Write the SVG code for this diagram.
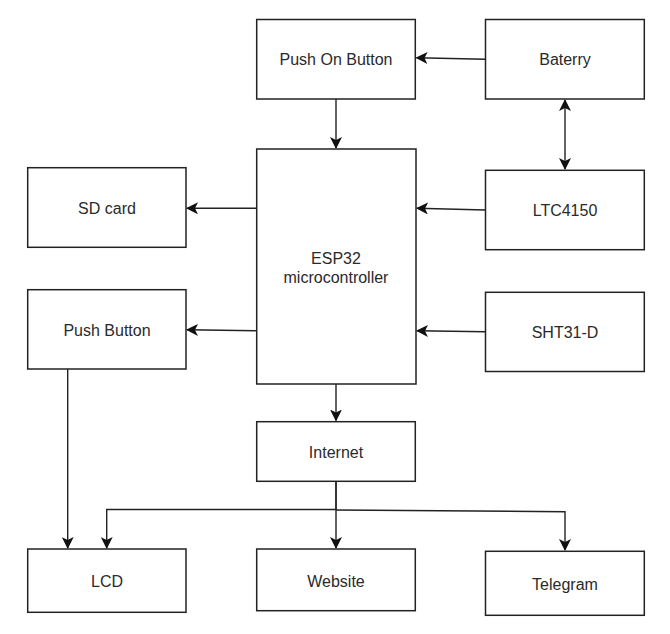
<svg xmlns="http://www.w3.org/2000/svg" width="670" height="634" viewBox="0 0 670 634">
<style>
.box{fill:#fff;stroke:#222;stroke-width:1.5}
.lbl{font-family:"Liberation Sans",Arial,sans-serif;font-size:16px;fill:#2a2a2a;text-anchor:middle}
.con{fill:none;stroke:#222;stroke-width:1.4}
</style>
<defs>
<marker id="arr" viewBox="0 0 12 12" refX="11" refY="6" markerWidth="12" markerHeight="12" markerUnits="userSpaceOnUse" orient="auto-start-reverse">
<path d="M0,0 L12,6 L0,12 L3,6 Z" fill="#111"/>
</marker>
</defs>
<rect width="670" height="634" fill="#fff"/>
<g id="connectors">
<path class="con" d="M485.5,59.3 L416.5,57.8" marker-end="url(#arr)"/>
<path class="con" d="M336,99 V148" marker-end="url(#arr)"/>
<path class="con" d="M565,100 V169" marker-start="url(#arr)" marker-end="url(#arr)"/>
<path class="con" d="M256.5,208.3 H187" marker-end="url(#arr)"/>
<path class="con" d="M485.5,210 L417,208.2" marker-end="url(#arr)"/>
<path class="con" d="M256.5,330.7 L187,329.8" marker-end="url(#arr)"/>
<path class="con" d="M485.5,331.7 L417,330.8" marker-end="url(#arr)"/>
<path class="con" d="M336,384 V420.5" marker-end="url(#arr)"/>
<path class="con" d="M336,481 V548" marker-end="url(#arr)"/>
<path class="con" d="M336,481 V509.5 H106.7 V548" marker-end="url(#arr)"/>
<path class="con" d="M336,510 L565,511.7 V550" marker-end="url(#arr)"/>
<path class="con" d="M67.7,369 V548" marker-end="url(#arr)"/>
</g>
<g id="push-on-button"><rect class="box" x="256.7" y="19.5" width="158.6" height="79.5"/><text class="lbl" x="336" y="65">Push On Button</text></g>
<g id="baterry"><rect class="box" x="485.5" y="19.5" width="158.8" height="79.5"/><text class="lbl" x="565" y="65">Baterry</text></g>
<g id="esp32"><rect class="box" x="256.7" y="149" width="159.3" height="235"/><text class="lbl" x="336" y="263.7">ESP32</text><text class="lbl" x="336" y="283.4">microcontroller</text></g>
<g id="sd-card"><rect class="box" x="27.7" y="167.7" width="158.3" height="79.6"/><text class="lbl" x="107" y="214">SD card</text></g>
<g id="ltc4150"><rect class="box" x="485.5" y="170.3" width="158.8" height="79.4"/><text class="lbl" x="565" y="215.7">LTC4150</text></g>
<g id="push-button"><rect class="box" x="27.7" y="289.7" width="158.3" height="79.3"/><text class="lbl" x="107" y="335.7">Push Button</text></g>
<g id="sht31-d"><rect class="box" x="485.5" y="292.3" width="158.8" height="79.2"/><text class="lbl" x="565" y="338.2">SHT31-D</text></g>
<g id="internet"><rect class="box" x="256.7" y="421.7" width="158.6" height="59.6"/><text class="lbl" x="336" y="457.7">Internet</text></g>
<g id="lcd"><rect class="box" x="27.7" y="549" width="158.3" height="63.3"/><text class="lbl" x="107" y="586.5">LCD</text></g>
<g id="website"><rect class="box" x="256.7" y="549" width="158.6" height="61.7"/><text class="lbl" x="336" y="586.5">Website</text></g>
<g id="telegram"><rect class="box" x="485.5" y="551.3" width="158.8" height="64"/><text class="lbl" x="565" y="589.5">Telegram</text></g>
</svg>
